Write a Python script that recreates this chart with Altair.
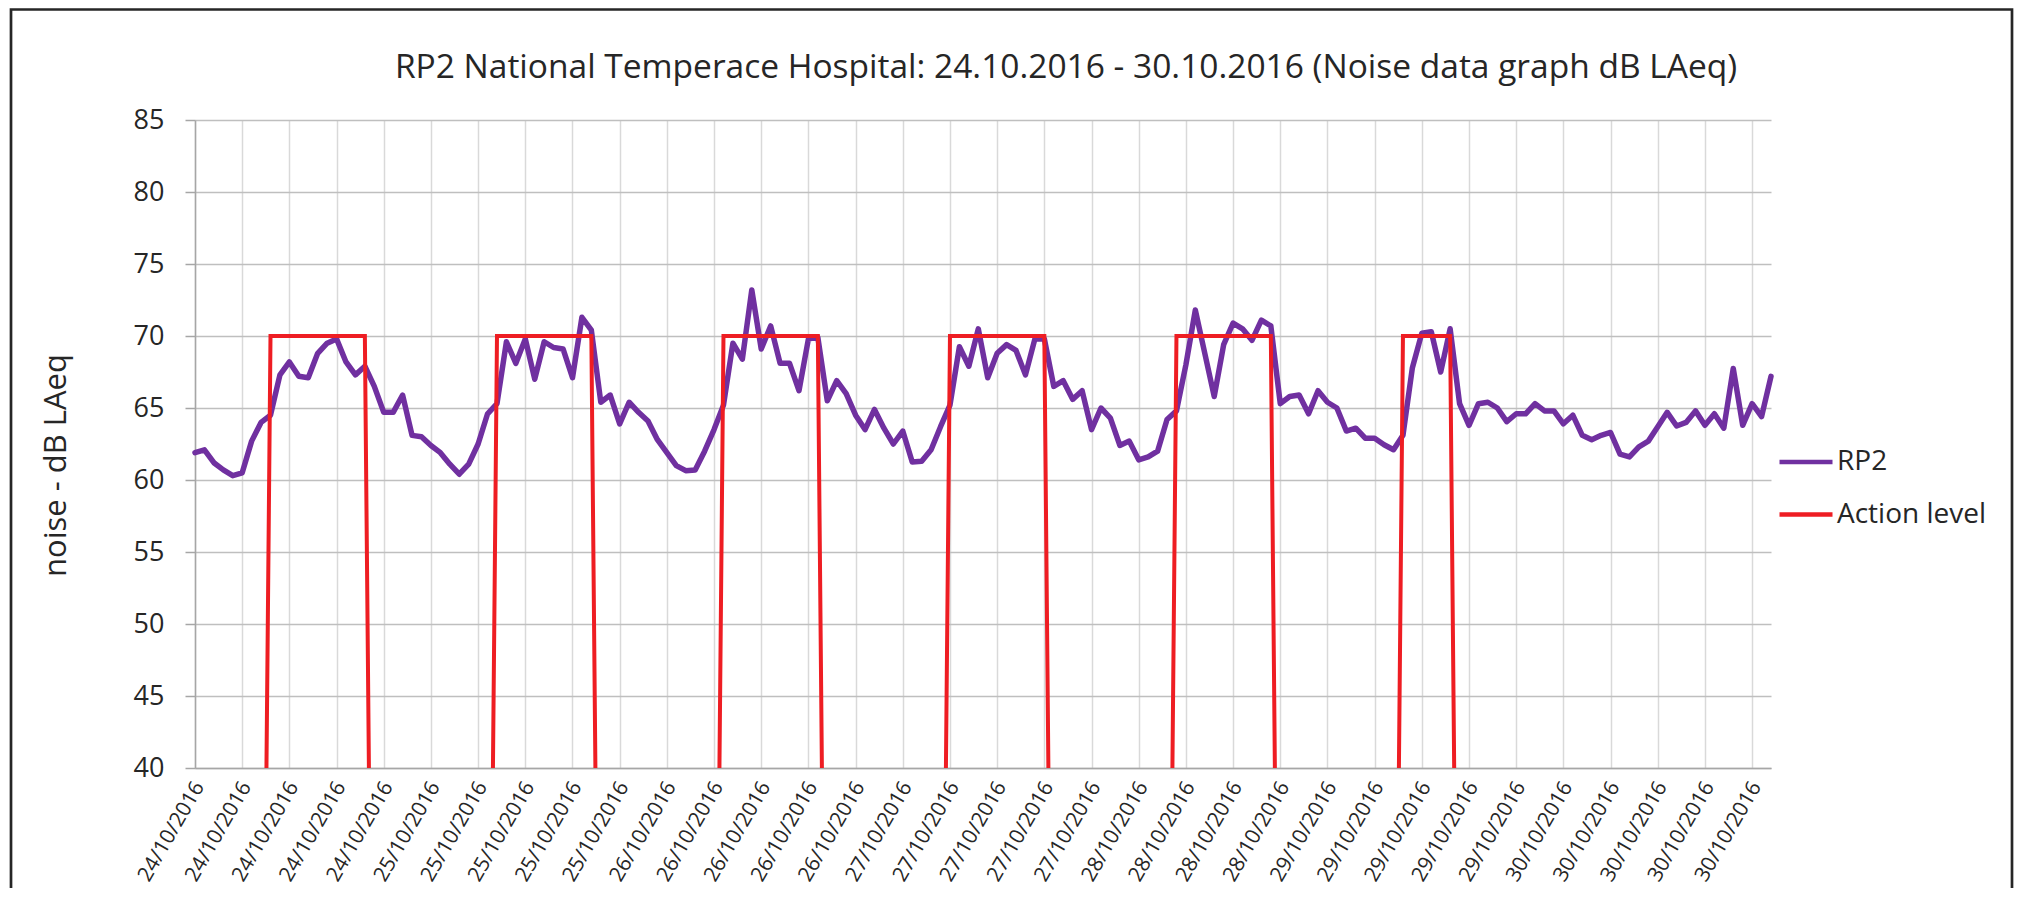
import altair as alt
import pandas as pd

TITLE = "RP2 National Temperace Hospital: 24.10.2016 - 30.10.2016 (Noise data graph dB LAeq)"
Y_TITLE = "noise - dB LAeq"
SERIES = ["RP2", "Action level"]
COLORS = ["#7030A0", "#EE1D23"]

# hourly readings, 24/10/2016 00:00 ... 30/10/2016 23:00 (168 points)
rp2 = [
    61.9, 62.1, 61.2, 60.7, 60.3, 60.5, 62.7, 64.0, 64.5, 67.3, 68.2, 67.2,
    67.1, 68.8, 69.5, 69.8, 68.2, 67.3, 67.9, 66.5, 64.7, 64.7, 65.9, 63.1,
    63.0, 62.4, 61.9, 61.1, 60.4, 61.1, 62.5, 64.6, 65.3, 69.6, 68.1, 69.8,
    67.0, 69.6, 69.2, 69.1, 67.1, 71.3, 70.4, 65.4, 65.9, 63.9, 65.4, 64.7,
    64.1, 62.8, 61.9, 61.0, 60.65, 60.7, 62.0, 63.5, 65.2, 69.5, 68.4, 73.2,
    69.1, 70.7, 68.1, 68.1, 66.2, 69.8, 69.9, 65.5, 66.9, 66.0, 64.5, 63.5,
    64.9, 63.6, 62.5, 63.4, 61.25, 61.3, 62.1, 63.7, 65.2, 69.25, 67.9, 70.5,
    67.1, 68.8, 69.4, 69.0, 67.3, 69.8, 69.8, 66.5, 66.9, 65.6, 66.2, 63.5,
    65.0, 64.3, 62.4, 62.7, 61.4, 61.6, 62.0, 64.2, 64.8, 68.0, 71.8, 68.8,
    65.8, 69.4, 70.9, 70.5, 69.7, 71.1, 70.7, 65.3, 65.8, 65.9, 64.6, 66.2,
    65.4, 65.0, 63.4, 63.6, 62.9, 62.9, 62.45, 62.1, 63.1, 67.8, 70.2, 70.3,
    67.5, 70.5, 65.3, 63.8, 65.3, 65.4, 65.0, 64.05, 64.6, 64.6, 65.3, 64.8,
    64.8, 63.9, 64.5, 63.1, 62.8, 63.1, 63.3, 61.8, 61.6, 62.3, 62.7, 63.7,
    64.7, 63.75, 64.0, 64.8, 63.8, 64.6, 63.6, 67.75, 63.8, 65.3, 64.4, 67.2,
]

action_level = [
    0, 0, 0, 0, 0, 0, 0, 0, 70, 70, 70, 70, 70, 70, 70, 70, 70, 70, 70, 0, 0, 0, 0, 0,
    0, 0, 0, 0, 0, 0, 0, 0, 70, 70, 70, 70, 70, 70, 70, 70, 70, 70, 70, 0, 0, 0, 0, 0,
    0, 0, 0, 0, 0, 0, 0, 0, 70, 70, 70, 70, 70, 70, 70, 70, 70, 70, 70, 0, 0, 0, 0, 0,
    0, 0, 0, 0, 0, 0, 0, 0, 70, 70, 70, 70, 70, 70, 70, 70, 70, 70, 70, 0, 0, 0, 0, 0,
    0, 0, 0, 0, 0, 0, 0, 0, 70, 70, 70, 70, 70, 70, 70, 70, 70, 70, 70, 0, 0, 0, 0, 0,
    0, 0, 0, 0, 0, 0, 0, 0, 70, 70, 70, 70, 70, 70, 0, 0, 0, 0, 0, 0, 0, 0, 0, 0,
    0, 0, 0, 0, 0, 0, 0, 0, 0, 0, 0, 0, 0, 0, 0, 0, 0, 0, 0, 0, 0, 0, 0, 0,
]

tick_positions = [0, 5, 10, 15, 20, 25, 30, 35, 40, 45, 50, 55, 60, 65, 70, 75, 80,
                  85, 90, 95, 100, 105, 110, 115, 120, 125, 130, 135, 140, 145,
                  150, 155, 160, 165]
tick_labels = (["24/10/2016"] * 5 + ["25/10/2016"] * 5 + ["26/10/2016"] * 5 +
               ["27/10/2016"] * 5 + ["28/10/2016"] * 4 + ["29/10/2016"] * 5 +
               ["30/10/2016"] * 5)
y_ticks = [40, 45, 50, 55, 60, 65, 70, 75, 80, 85]

hours = list(range(len(rp2)))
df_rp2 = pd.DataFrame({"hour": hours, "value": rp2, "series": SERIES[0]})
df_act = pd.DataFrame({"hour": hours, "value": action_level, "series": SERIES[1]})
one = pd.DataFrame({"k": [0]})

FONT = "Open Sans"
TXT = "#262626"

label_js = "[" + ",".join("'" + s + "'" for s in tick_labels) + "]"

x_enc = alt.X(
    "hour:Q",
    title=None,
    scale=alt.Scale(domain=[0, len(rp2) - 1], nice=False, zero=False),
    axis=alt.Axis(
        values=tick_positions,
        labelExpr=label_js + "[round(datum.value / 5)]",
        labelAngle=-60,
        labelAlign="right",
        labelBaseline="middle",
        labelFont=FONT,
        labelFontSize=21,
        labelColor=TXT,
        labelPadding=15,
        labelOffset=4,
        labelOverlap=False,
        labelFlush=False,
        labelBound=False,
        ticks=False,
        grid=True,
        gridColor="#D9D9D9",
        gridWidth=1.5,
        domainColor="#A6A6A6",
        domainWidth=1.5,
    ),
)

y_enc = alt.Y(
    "value:Q",
    title=Y_TITLE,
    scale=alt.Scale(domain=[40, 85], nice=False, zero=False),
    axis=alt.Axis(
        values=y_ticks,
        labelFont=FONT,
        labelFontSize=27,
        labelColor=TXT,
        labelPadding=21,
        labelFlush=False,
        labelOverlap=False,
        tickSize=10,
        tickColor="#A6A6A6",
        tickWidth=1.5,
        grid=True,
        gridColor="#BFBFBF",
        gridWidth=1.5,
        domainColor="#A6A6A6",
        domainWidth=1.5,
        titleFont=FONT,
        titleFontSize=31,
        titleFontWeight="normal",
        titleColor=TXT,
        titleAngle=270,
        titleAlign="center",
        titleBaseline="middle",
        titleX=-139,
        titleY=345,
    ),
)

color_enc = alt.Color(
    "series:N",
    scale=alt.Scale(domain=SERIES, range=COLORS),
    legend=alt.Legend(
        title=None,
        orient="none",
        legendX=1582,
        legendY=313,
        symbolType="stroke",
        symbolSize=2809,
        symbolStrokeWidth=4.5,
        labelFont=FONT,
        labelFontSize=28,
        labelColor=TXT,
        labelOffset=2,
        rowPadding=9.5,
        padding=0,
    ),
)

line_rp2 = alt.Chart(df_rp2).mark_line(
    strokeWidth=5.5, strokeJoin="round", strokeCap="round"
).encode(x=x_enc, y=y_enc, color=color_enc)

line_act = alt.Chart(df_act).mark_line(
    strokeWidth=4, strokeJoin="miter", clip=True
).encode(x=x_enc, y=y_enc, color=color_enc)

frame = alt.Chart(one).mark_rect(
    filled=False, stroke="#262626", strokeWidth=2.7
).encode(x=alt.value(-184), x2=alt.value(1817), y=alt.value(-110.5), y2=alt.value(820))

title_mark = alt.Chart(one).mark_text(
    text=TITLE, font=FONT, fontSize=33.5, color=TXT, align="center", baseline="middle"
).encode(x=alt.value(871), y=alt.value(-52))

chart = alt.layer(frame, line_rp2, line_act, title_mark).properties(
    width=1576,
    height=648,
    padding={"left": 187, "top": 112, "right": 243, "bottom": 120},
    autosize=alt.AutoSizeParams(type="none"),
).configure_view(stroke=None)

chart.save("out.html", embed_options={"renderer": "svg", "actions": False})
